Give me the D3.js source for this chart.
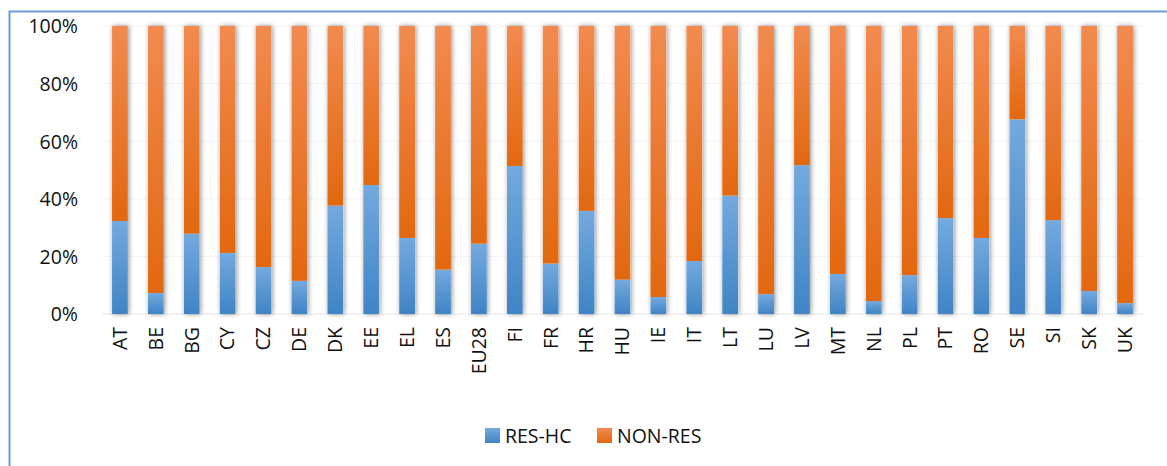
<!DOCTYPE html>
<html><head><meta charset="utf-8">
<script src="https://cdn.jsdelivr.net/npm/d3@7"></script>
<style>body{margin:0;background:#fff}svg{display:block}</style>
</head><body>
<svg id="c" width="1167" height="466"></svg>
<script>
const categories = ["AT","BE","BG","CY","CZ","DE","DK","EE","EL","ES","EU28","FI","FR","HR","HU","IE","IT","LT","LU","LV","MT","NL","PL","PT","RO","SE","SI","SK","UK"];
const resHC = [32.3,7.3,27.9,21.2,16.3,11.5,37.6,44.8,26.4,15.4,24.4,51.4,17.5,35.8,11.9,5.9,18.4,41.1,6.9,51.7,13.9,4.5,13.5,33.3,26.4,67.6,32.6,8.0,3.8];
const nonRes = resHC.map(v => 100 - v);
const yTicks = [0,20,40,60,80,100];
const seriesNames = ["RES-HC","NON-RES"];

const svg = d3.select("#c");
const font = "'Open Sans', 'Noto Sans', sans-serif";
const defs = svg.append("defs");
function grad(id, c1, c2){
  const g = defs.append("linearGradient").attr("id", id).attr("x1",0).attr("y1",0).attr("x2",0).attr("y2",1);
  g.append("stop").attr("offset","0%").attr("stop-color",c1);
  g.append("stop").attr("offset","100%").attr("stop-color",c2);
}
grad("gBlue","#74a9de","#3f84c5");
grad("gOrange","#f28a4f","#e2680f");
const f = defs.append("filter").attr("id","sh").attr("x","-60%").attr("y","-5%").attr("width","220%").attr("height","110%");
f.append("feDropShadow").attr("dx",1).attr("dy",0).attr("stdDeviation",2.5).attr("flood-color","#000").attr("flood-opacity",0.45);

// frame
svg.append("path").attr("d","M9.5,466 V11.5 H1167").attr("fill","none").attr("stroke","#6a9fd8").attr("stroke-width",2);

const x = d3.scaleBand().domain(categories).range([102,1143]).paddingInner(0.56).paddingOuter(0.28);
const y = d3.scaleLinear().domain([0,100]).range([314,26]);

// gridlines
svg.append("g").selectAll("line").data(yTicks).join("line")
  .attr("x1",102).attr("x2",1143).attr("y1",d=>y(d)).attr("y2",d=>y(d))
  .attr("stroke",d=>d===0?"#e6e6e6":"#f3f3f3").attr("stroke-width",1);

const data = categories.map((c,i)=>({cat:c, "RES-HC":resHC[i], "NON-RES":nonRes[i]}));
const stack = d3.stack().keys(seriesNames)(data);
const fills = {"RES-HC":"url(#gBlue)","NON-RES":"url(#gOrange)"};

const bars = svg.append("g");
bars.selectAll("rect.sh").data(data).join("rect").attr("class","sh")
  .attr("x",d=>x(d.cat)).attr("width",x.bandwidth())
  .attr("y",y(100)).attr("height",y(0)-y(100)).attr("fill","#fff").attr("filter","url(#sh)");
stack.forEach(s=>{
  bars.append("g").selectAll("rect").data(s).join("rect")
    .attr("x",d=>x(d.data.cat)).attr("width",x.bandwidth())
    .attr("y",d=>y(d[1])).attr("height",d=>y(d[0])-y(d[1]))
    .attr("fill",fills[s.key]);
});

// y axis labels
const yAxis = d3.axisLeft(y).tickValues(yTicks).tickFormat(d=>d+"%").tickSize(0).tickPadding(0);
const ya = svg.append("g").attr("transform","translate(78,0)").call(yAxis);
ya.select(".domain").remove();
ya.selectAll("text").attr("font-family",font).attr("font-size",19.5).attr("fill","#111").attr("dy","0.35em");

// x axis labels
const xAxis = d3.axisBottom(x).tickSize(0).tickPadding(0);
const xa = svg.append("g").attr("transform","translate(0,327)").call(xAxis);
xa.select(".domain").remove();
xa.selectAll("text").attr("font-family",font).attr("font-size",19.5).attr("fill","#111")
  .attr("text-anchor","end").attr("transform","rotate(-90)").attr("x",0).attr("y",0).attr("dy","0.35em");

// legend
const leg = svg.append("g");
const legItems = [{k:"RES-HC",x:485},{k:"NON-RES",x:597}];
legItems.forEach(it=>{
  leg.append("rect").attr("x",it.x).attr("y",428).attr("width",15).attr("height",15).attr("fill",fills[it.k]);
  leg.append("text").attr("x",it.x+20).attr("y",436).attr("dy","0.35em").attr("font-family",font).attr("font-size",19.5).attr("fill","#111").text(it.k);
});
</script>
</body></html>
